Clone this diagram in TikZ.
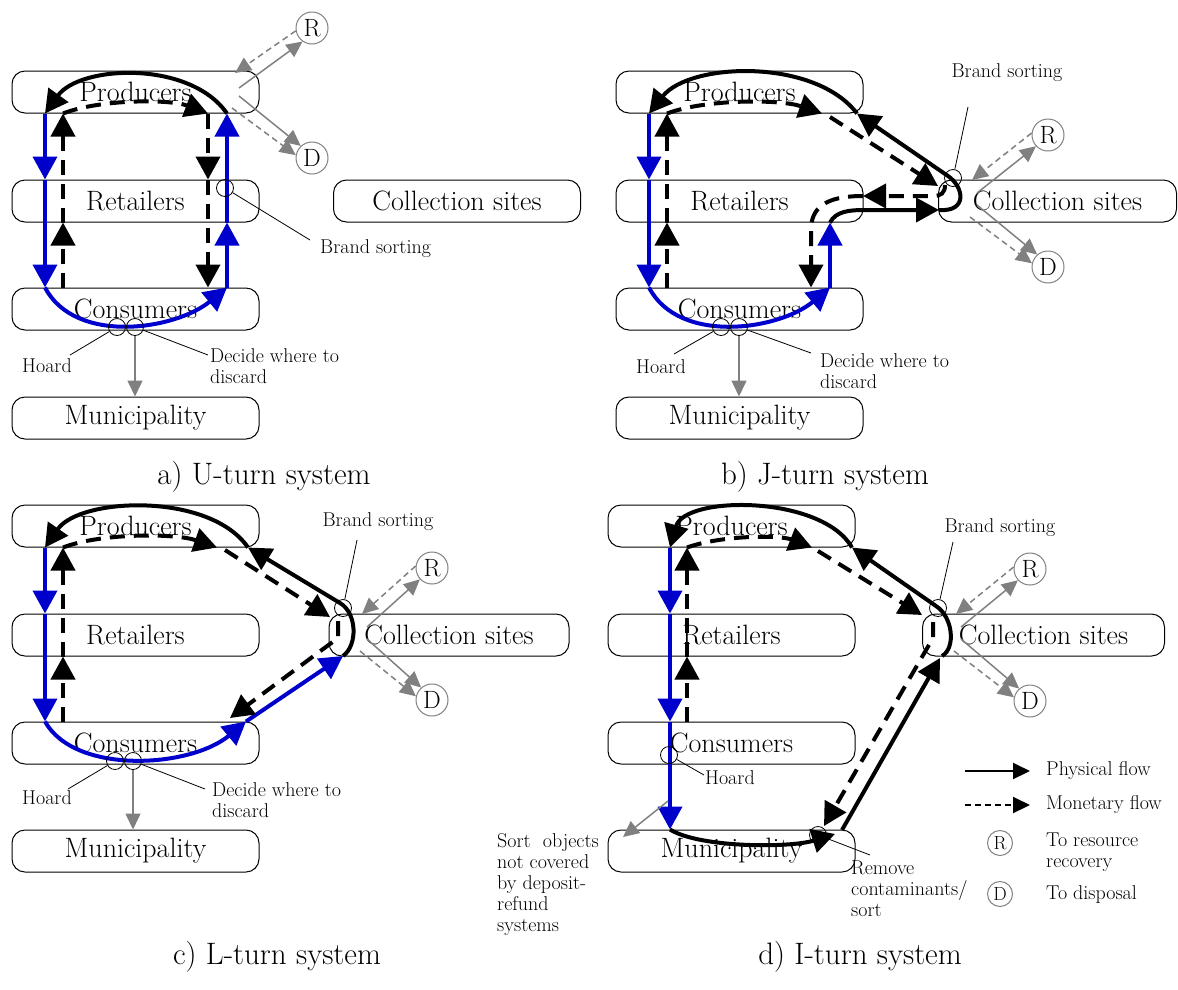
\documentclass[tikz,border=0pt]{standalone}
\usepackage{fontspec}
\usetikzlibrary{arrows.meta,calc}
\definecolor{flowblue}{RGB}{0,0,204}
\definecolor{flowgray}{RGB}{128,128,128}
\tikzset{
 box/.style={draw,line width=1pt,rounded corners=13pt,minimum width=247pt,minimum height=42pt,inner sep=0pt,font=\fontsize{28}{32}\selectfont},
 rdnode/.style={draw=flowgray,line width=1pt,circle,minimum size=32pt,inner sep=0pt,font=\fontsize{25}{28}\selectfont},
 legcirc/.style={draw=flowgray,line width=1pt,circle,minimum size=25pt,inner sep=0pt,font=\fontsize{19}{21}\selectfont},
 bigtip/.style={-{Triangle[length=23pt,width=24pt]}},
 phys/.style={line width=4pt,bigtip},
 physb/.style={phys,color=flowblue},
 money/.style={line width=4pt,dash pattern=on 15pt off 9pt,bigtip},
 gphys/.style={color=flowgray,line width=1.5pt,-{Triangle[length=16pt,width=15pt]}},
 gmoney/.style={gphys,dash pattern=on 6pt off 4pt},
 thinline/.style={line width=0.8pt},
 ringmark/.style={draw,circle,line width=0.8pt,minimum size=17pt,inner sep=0pt},
 smalltext/.style={font=\fontsize{20}{21}\selectfont,inner sep=0pt},
 titletext/.style={font=\fontsize{31}{34}\selectfont,inner sep=0pt},
 legphys/.style={line width=2pt,-{Triangle[length=17pt,width=16pt]}},
 legmoney/.style={legphys,dash pattern=on 6pt off 4pt},
}
\begin{document}
\begin{tikzpicture}[x=1pt,y=-1pt]
\useasboundingbox (0,0) rectangle (1178,989);
% ================= panel a =================
\node[box] (Pa) at (135.5,92) {Producers};
\node[box] (Ra) at (135.5,201) {Retailers};
\node[box] (Ca) at (135.5,309) {Consumers};
\node[box] (Ma) at (135.5,418) {Municipality};
\node[box] (Ka) at (457,201) {Collection sites};
\node[rdnode] (RRa) at (312,28) {R};
\node[rdnode] (DDa) at (312,158) {D};
\coordinate (aL) at (45,0); \coordinate (aM) at (63,0);
\coordinate (aN) at (208,0); \coordinate (aR) at (227,0);
\draw[physb] (aL|-Pa.south) -- (aL|-Ra.north);
\draw[physb] (aL|-Ra.north) -- (aL|-Ca.north);
\draw[physb] (aL|-Ca.north) .. controls (75,345) and (175,330) .. (aR|-Ca.north);
\draw[physb] (aR|-Ca.north) -- (aR|-Ra.south);
\draw[physb] (aR|-Ra.south) -- (aR|-Pa.south);
\draw[phys] (aR|-Pa.south) .. controls (190,60) and (80,65) .. (aL|-Pa.south);
\draw[money] (aM|-Ca.north) -- (aM|-Ra.south);
\draw[money] (aM|-Ra.south) -- (aM|-Pa.south);
\draw[money] (aM|-Pa.south) .. controls (100,99) and (170,99) .. (aN|-Pa.south);
\draw[money] (aN|-Pa.south) -- (aN|-Ra.north);
\draw[money] (aN|-Ra.north) -- (aN|-Ca.north);
\coordinate (ga1) at (239,88); \coordinate (ga2) at (235,73);
\coordinate (ga3) at (239,96); \coordinate (ga4) at (232,108);
\draw[gphys] (ga1) -- (RRa.235);
\draw[gmoney] (RRa.190) -- (ga2);
\draw[gphys] (ga3) -- (DDa.133);
\draw[gmoney] (ga4) -- (DDa.170);
\node[ringmark] (bsa) at (225,188) {};
\node[smalltext,anchor=west] (bsla) at (320,249) {Brand sorting};
\coordinate (bsea) at (310,240);
\draw[thinline] (bsa) -- (bsea);
\node[ringmark] (hoa) at (117,327) {};
\node[ringmark] (dea) at (135,327) {};
\node[smalltext] (hola) at (47,366) {Hoard};
\node[smalltext,align=left,anchor=north west] (dela) at (210,348) {Decide where to\\discard};
\coordinate (hea) at (70,355); \coordinate (dga) at (208,355);
\draw[thinline] (hoa) -- (hea);
\draw[thinline] (dea) -- (dga);
\draw[gphys] (dea.south) -- (Ma.north -| dea);
\node[titletext] (ta) at (264,477) {a) U-turn system};
% ================= panel b =================
\node[box] (Pb) at (739.5,92) {Producers};
\node[box] (Rb) at (739.5,201) {Retailers};
\node[box] (Cb) at (739.5,309) {Consumers};
\node[box] (Mb) at (739.5,418) {Municipality};
\node[box,minimum width=238pt] (Kb) at (1057.5,201) {Collection sites};
\node[rdnode] (RRb) at (1048,135) {R};
\node[rdnode] (DDb) at (1048,267) {D};
\coordinate (bL) at (649,0); \coordinate (bM) at (667,0);
\coordinate (bR) at (830,0); \coordinate (bN) at (811,0);
\coordinate (bT) at (822,0); \coordinate (bS) at (857,0);
\draw[physb] (bL|-Pb.south) -- (bL|-Rb.north);
\draw[physb] (bL|-Rb.north) -- (bL|-Cb.north);
\draw[physb] (bL|-Cb.north) .. controls (679,345) and (779,330) .. (bR|-Cb.north);
\draw[physb] (bR|-Cb.north) -- (bR|-Rb.south);
\coordinate (kbin) at (939,210);
\draw[phys] (bR|-Rb.south) .. controls (836,211) and (850,210) .. (865,210) -- (kbin);
\draw[phys] (kbin) .. controls (968,212) and (964,187) .. (948,176) -- (bS|-Pb.south);
\draw[phys] (bS|-Pb.south) .. controls (815,58) and (690,62) .. (bL|-Pb.south);
\draw[money] (bM|-Cb.north) -- (bM|-Rb.south);
\draw[money] (bM|-Rb.south) -- (bM|-Pb.south);
\draw[money] (bM|-Pb.south) .. controls (705,99) and (780,99) .. (bT|-Pb.south);
\coordinate (bd1) at (830,117); \coordinate (bd2) at (938,186);
\draw[money] (bd1) -- (bd2);
\coordinate (bd3) at (945,185); \coordinate (bd4) at (863,196);
\draw[money] (bd3) .. controls (945,193) and (941,196) .. (933,196) -- (bd4);
\draw[money] (bd4) .. controls (825,196) and (811,208) .. (811,230) -- (bN|-Cb.north);
\coordinate (gb1) at (977,193); \coordinate (gb2) at (972,180);
\coordinate (gb3) at (977,205); \coordinate (gb4) at (970,217);
\draw[gphys] (gb1) -- (RRb.223);
\draw[gmoney] (RRb.173) -- (gb2);
\draw[gphys] (gb3) -- (DDb.131);
\draw[gmoney] (gb4) -- (DDb.167);
\node[ringmark] (bsb) at (953,178) {};
\node[smalltext] (bslb) at (1007,73) {Brand sorting};
\coordinate (bseb) at (968,107);
\draw[thinline] (bsb) -- (bseb);
\node[ringmark] (hob) at (721,327) {};
\node[ringmark] (deb) at (739,327) {};
\node[smalltext] (holb) at (661,367) {Hoard};
\node[smalltext,align=left,anchor=north west] (delb) at (820,353) {Decide where to\\discard};
\coordinate (heb) at (674,354); \coordinate (dgb) at (811,353);
\draw[thinline] (hob) -- (heb);
\draw[thinline] (deb) -- (dgb);
\draw[gphys] (deb.south) -- (Mb.north -| deb);
\node[titletext] (tb) at (825,477) {b) J-turn system};
% ================= panel c =================
\node[box] (Pc) at (135.5,526) {Producers};
\node[box] (Rc) at (135.5,635) {Retailers};
\node[box] (Cc) at (135.5,743) {Consumers};
\node[box] (Mc) at (135.5,851) {Municipality};
\node[box,minimum width=240pt] (Kc) at (449,635) {Collection sites};
\node[rdnode] (RRc) at (432,568) {R};
\node[rdnode] (DDc) at (432,700) {D};
\coordinate (cL) at (45,0); \coordinate (cM) at (63,0);
\coordinate (cC) at (246,0); \coordinate (cS) at (248,0); \coordinate (cT) at (217,0);
\draw[physb] (cL|-Pc.south) -- (cL|-Rc.north);
\draw[physb] (cL|-Rc.north) -- (cL|-Cc.north);
\draw[physb] (cL|-Cc.north) .. controls (75,775) and (190,768) .. (cC|-Cc.north);
\coordinate (kcb) at (343,656);
\draw[physb] (cC|-Cc.north) -- (kcb);
\draw[phys] (kcb) .. controls (358,645) and (357,613) .. (340,603) -- (cS|-Pc.south);
\draw[phys] (cS|-Pc.south) .. controls (210,492) and (80,497) .. (cL|-Pc.south);
\draw[money] (cM|-Cc.north) -- (cM|-Rc.south);
\draw[money] (cM|-Rc.south) -- (cM|-Pc.south);
\draw[money] (cM|-Pc.south) .. controls (100,533) and (175,533) .. (cT|-Pc.south);
\coordinate (cd1) at (225,550); \coordinate (cd2) at (330,617);
\draw[money] (cd1) -- (cd2);
\coordinate (cd3) at (338,621); \coordinate (cd4) at (230,718);
\draw[money] (cd3) -- (338,638) -- (cd4);
\coordinate (gc1) at (367,627); \coordinate (gc2) at (362,614);
\coordinate (gc3) at (367,639); \coordinate (gc4) at (360,651);
\draw[gphys] (gc1) -- (RRc.223);
\draw[gmoney] (RRc.173) -- (gc2);
\draw[gphys] (gc3) -- (DDc.131);
\draw[gmoney] (gc4) -- (DDc.167);
\node[ringmark] (bsc) at (343,608) {};
\node[smalltext] (bslc) at (378,522) {Brand sorting};
\coordinate (bsec) at (357,540);
\draw[thinline] (bsc) -- (bsec);
\node[ringmark] (hoc) at (115,761) {};
\node[ringmark] (dec) at (133,761) {};
\node[smalltext] (holc) at (47,798) {Hoard};
\node[smalltext,align=left,anchor=north west] (delc) at (212,782) {Decide where to\\discard};
\coordinate (hec) at (68,789); \coordinate (dgc) at (205,789);
\draw[thinline] (hoc) -- (hec);
\draw[thinline] (dec) -- (dgc);
\draw[gphys] (dec.south) -- (Mc.north -| dec);
\node[titletext] (tc) at (277,957) {c) L-turn system};
% ================= panel d =================
\node[box] (Pd) at (731.5,526) {Producers};
\node[box] (Rd) at (731.5,635) {Retailers};
\node[box] (Cd) at (731.5,743) {Consumers};
\node[box] (Md) at (731.5,851) {Municipality};
\node[box,minimum width=242pt] (Kd) at (1043.5,635) {Collection sites};
\node[rdnode] (RRd) at (1030,569) {R};
\node[rdnode] (DDd) at (1030,701) {D};
\coordinate (dL) at (670,0); \coordinate (dM) at (687,0);
\coordinate (dS) at (852,0); \coordinate (dT) at (812,0);
\draw[physb] (dL|-Pd.south) -- (dL|-Rd.north);
\draw[physb] (dL|-Rd.north) -- (dL|-Cd.north);
\draw[physb] (dL|-Cd.north) -- (dL|-Md.north);
\draw[money] (dM|-Cd.north) -- (dM|-Rd.south);
\draw[money] (dM|-Rd.south) -- (dM|-Pd.south);
\draw[phys] (dS|-Pd.south) .. controls (822,495) and (685,495) .. (dL|-Pd.south);
\draw[money] (dM|-Pd.south) .. controls (722,535) and (780,535) .. (dT|-Pd.south);
\coordinate (dd1) at (818,551); \coordinate (dd2) at (922,615);
\draw[money] (dd1) -- (dd2);
\coordinate (kdb) at (942,656);
\draw[phys] (kdb) .. controls (956,648) and (953,617) .. (936,606) -- (dS|-Pd.south);
\coordinate (dd3) at (933,622); \coordinate (dd4) at (824,826);
\draw[money] (dd3) -- (933,638) -- (dd4);
\coordinate (dm1) at (835,834); \coordinate (dm2) at (842,830); \coordinate (dm3) at (940,658);
\draw[phys] (dL|-Md.north) .. controls (700,848) and (790,848) .. (dm1);
\draw[phys] (dm2) -- (dm3);
\coordinate (gd1) at (961,627); \coordinate (gd2) at (956,614);
\coordinate (gd3) at (961,639); \coordinate (gd4) at (954,651);
\draw[gphys] (gd1) -- (RRd.223);
\draw[gmoney] (RRd.173) -- (gd2);
\draw[gphys] (gd3) -- (DDd.131);
\draw[gmoney] (gd4) -- (DDd.167);
\node[ringmark] (bsd) at (938,608) {};
\node[smalltext] (bsld) at (1000,528) {Brand sorting};
\coordinate (bsed) at (953,542);
\draw[thinline] (bsd) -- (bsed);
\node[ringmark] (hod) at (669,755) {};
\node[smalltext,anchor=west] (hold) at (705,778) {Hoard};
\coordinate (hed) at (704,775);
\draw[thinline] (hod) -- (hed);
\coordinate (gs1) at (668,801); \coordinate (gs2) at (623,837);
\draw[gphys] (gs1) -- (gs2);
\node[smalltext,align=left,anchor=north west] (sortd) at (497,833) {Sort\ \ objects\\not covered\\by deposit-\\refund\\systems};
\node[ringmark] (rmd) at (818,835) {};
\node[smalltext,align=left,anchor=north west] (rmld) at (851,861) {Remove\\contaminants/\\sort};
\coordinate (rme) at (870,855);
\draw[thinline] (rmd) -- (rme);
\node[titletext] (td) at (860,957) {d) I-turn system};
% ================= legend =================
\coordinate (l1a) at (965,771); \coordinate (l1b) at (1030,771);
\coordinate (l2a) at (965,805); \coordinate (l2b) at (1030,805);
\draw[legphys] (l1a) -- (l1b);
\draw[legmoney] (l2a) -- (l2b);
\node[smalltext,anchor=west] (lt1) at (1046,770) {Physical flow};
\node[smalltext,anchor=west] (lt2) at (1046,804) {Monetary flow};
\node[legcirc] (lr) at (1000,843) {R};
\node[legcirc] (ld) at (1000,894) {D};
\node[smalltext,align=left,anchor=north west] (lt3) at (1046,833) {To resource\\recovery};
\node[smalltext,anchor=west] (lt4) at (1046,894) {To disposal};
\end{tikzpicture}
\end{document}
